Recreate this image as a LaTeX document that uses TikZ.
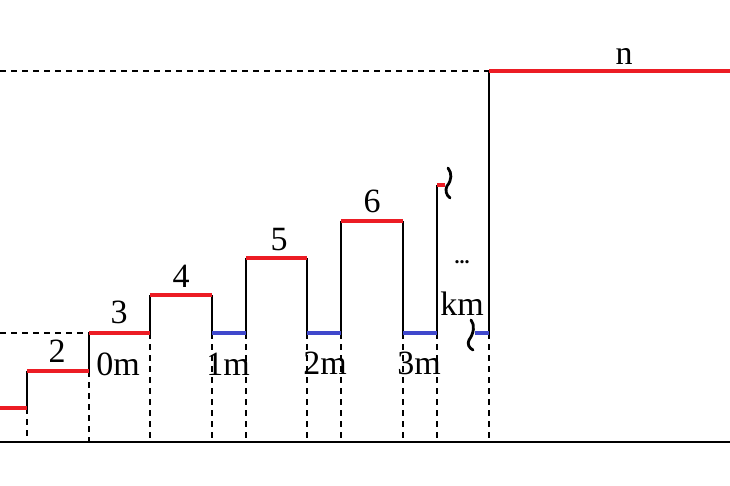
\documentclass[tikz,border=0pt]{standalone}
\usepackage{fontspec}
\setmainfont{Liberation Serif}
\definecolor{lvlred}{RGB}{236,28,36}
\definecolor{lvlblue}{RGB}{63,72,204}
\begin{document}
\begin{tikzpicture}[x=1pt,y=-1pt,
  base/.style={line width=2pt,black},
  redlvl/.style={line width=3.2pt,lvlred},
  bluelvl/.style={line width=3.2pt,lvlblue},
  guide/.style={line width=1.6pt,black,dash pattern=on 6pt off 5pt},
  riser/.style={line width=2.2pt,black},
  squig/.style={line width=2.8pt,black,line cap=round},
  lbl/.style={inner sep=0pt,anchor=base,font=\fontsize{34}{34}\selectfont},
  dots/.style={inner sep=0pt,anchor=base,font=\bfseries\fontsize{20}{20}\selectfont}]
\useasboundingbox (0,0) rectangle (730,486);
% coordinates
\coordinate (b0) at (0,442); \coordinate (b1) at (730,442);
\coordinate (l0) at (0,408); \coordinate (x1a) at (27,408); \coordinate (x1b) at (27,371);
\coordinate (x2b) at (89,371); \coordinate (x2c) at (89,333);
\coordinate (x3c) at (150,333); \coordinate (x3d) at (150,295);
\coordinate (x4d) at (212,295); \coordinate (x4c) at (212,333);
\coordinate (x5c) at (246,333); \coordinate (x5e) at (246,258);
\coordinate (x6e) at (307,258); \coordinate (x6c) at (307,333);
\coordinate (x7c) at (341,333); \coordinate (x7f) at (341,221);
\coordinate (x8f) at (403,221); \coordinate (x8c) at (403,333);
\coordinate (x9c) at (437,333); \coordinate (x9g) at (437,185);
\coordinate (x9h) at (445,185);
\coordinate (xkc) at (475,333); \coordinate (xnc) at (489,333); \coordinate (xnt) at (489,71);
\coordinate (xend) at (730,71);
\coordinate (dl0) at (0,333); \coordinate (dn0) at (0,71);
% dashed guides
\draw[guide] (dl0) -- (x2c);
\draw[guide] (dn0) -- (xnt);
\foreach \p in {x1a,x2b,x3c,x4c,x5c,x6c,x7c,x8c,x9c,xnc}
  \draw[guide] (\p) -- (\p |- b0);
% baseline
\draw[base] (b0) -- (b1);
% risers
\draw[riser] (x1a) -- (x1b);
\draw[riser] (x2b) -- (x2c);
\draw[riser] (x3c) -- (x3d);
\draw[riser] (x4d) -- (x4c);
\draw[riser] (x5c) -- (x5e);
\draw[riser] (x6e) -- (x6c);
\draw[riser] (x7c) -- (x7f);
\draw[riser] (x8f) -- (x8c);
\draw[riser] (x9c) -- (x9g);
\draw[riser] (xnc) -- (xnt);
% red levels
\draw[redlvl] (l0) -- (x1a);
\draw[redlvl] (x1b) -- (x2b);
\draw[redlvl] (x2c) -- (x3c);
\draw[redlvl] (x3d) -- (x4d);
\draw[redlvl] (x5e) -- (x6e);
\draw[redlvl] (x7f) -- (x8f);
\draw[redlvl] (x9g) -- (x9h);
\draw[redlvl] (xnt) -- (xend);
% blue levels
\draw[bluelvl] (x4c) -- (x5c);
\draw[bluelvl] (x6c) -- (x7c);
\draw[bluelvl] (x8c) -- (x9c);
\draw[bluelvl] (xkc) -- (xnc);
% squiggles
\draw[squig] (448,168) .. controls (452,173) and (452,180) .. (447,186) .. controls (445,190) and (446,195) .. (450,198);
\draw[squig] (471,320) .. controls (475,325) and (474,333) .. (469,340) .. controls (467,344) and (469,348) .. (473,350);
% labels
\node[lbl] (t2) at (57,362) {2};
\node[lbl] (t3) at (119,323) {3};
\node[lbl] (t4) at (181,287) {4};
\node[lbl] (t5) at (279,251) {5};
\node[lbl] (t6) at (372,213) {6};
\node[lbl] (tn) at (624,65) {n};
\node[lbl] (m0) at (118,375) {0m};
\node[lbl] (m1) at (228,375) {1m};
\node[lbl] (m2) at (325,374) {2m};
\node[lbl] (m3) at (419,374) {3m};
\node[lbl] (mk) at (462,315) {km};
\node[dots] (dd) at (462,263) {...};
\end{tikzpicture}
\end{document}
